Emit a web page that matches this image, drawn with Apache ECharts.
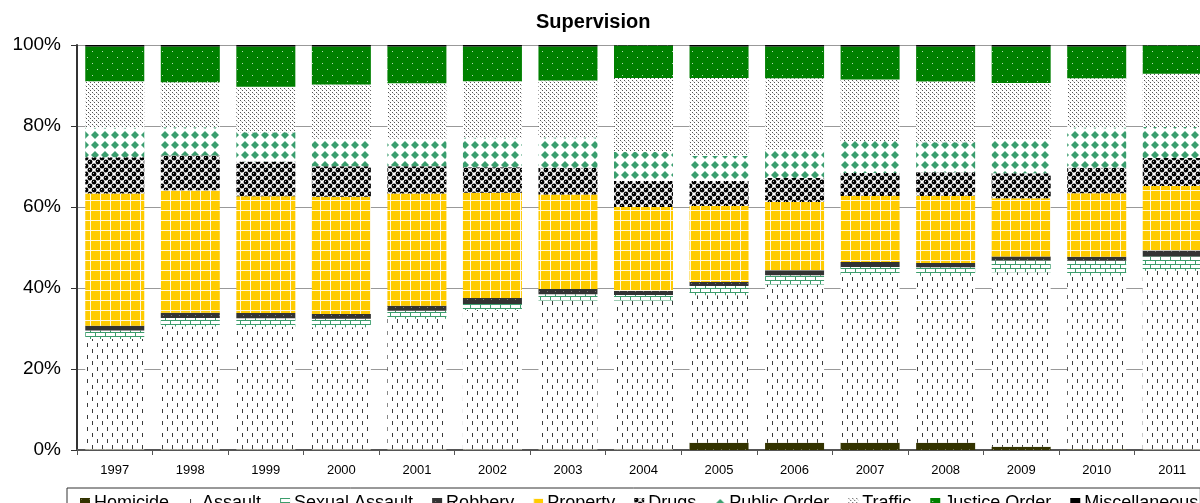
<!DOCTYPE html>
<html><head><meta charset="utf-8">
<script src="https://cdn.jsdelivr.net/npm/echarts@6/dist/echarts.min.js"></script>
<style>html,body{margin:0;padding:0;background:#fff;overflow:hidden;width:1200px;height:503px}#c{width:1210px;height:503px}</style>
</head><body><div id="c"></div>
<script>
const years = ['1997','1998','1999','2000','2001','2002','2003','2004','2005','2006','2007','2008','2009','2010','2011'];
const seriesNames = ['Homicide','Assault','Sexual Assault','Robbery','Property','Drugs','Public Order','Traffic','Justice Order','Miscellaneous'];
const homicide      = [0.1,0.1,0.1,0.1,0.1,0.1,0.1,0.1,1.8,1.8,1.8,1.8,0.8,0.2,0.1];
const assault       = [27.4,30.4,30.4,30.3,32.4,34.6,36.9,36.9,36.5,39.1,41.4,41.2,43.2,43.0,44.3];
const sexualAssault = [2.1,2.1,2.1,2.1,2.0,1.5,1.6,1.4,2.3,2.3,2.0,2.1,2.9,3.6,3.5];
const robbery       = [1.2,1.3,1.3,1.2,1.2,1.5,1.3,1.0,1.0,1.2,1.2,1.1,1.0,1.0,1.5];
const property      = [32.8,30.3,28.9,29.0,27.8,26.1,23.4,20.8,18.8,16.9,16.3,16.5,14.4,15.7,16.0];
const drugs         = [9.0,8.6,8.6,7.6,6.8,6.3,6.6,6.4,6.2,5.9,5.7,5.9,6.2,6.3,6.9];
const publicOrder   = [7.3,7.0,7.2,6.8,6.8,7.3,7.5,7.2,6.2,7.0,7.9,7.4,8.3,10.0,7.7];
const traffic       = [11.5,11.1,11.3,13.4,13.7,14.0,14.1,18.3,19.3,17.7,15.2,15.0,14.0,12.2,13.2];
const justiceOrder  = [8.6,8.8,9.9,9.4,9.1,8.6,8.4,8.1,7.8,7.8,8.1,8.6,9.0,7.8,7.0];
const miscellaneous = [0.4,0.4,0.4,0.4,0.4,0.4,0.4,0.1,0.4,0.4,0.4,0.4,0.4,0.4,0.1];
const yTicks = [0,20,40,60,80,100];

const raw = [homicide,assault,sexualAssault,robbery,property,drugs,publicOrder,traffic,justiceOrder,miscellaneous];
const totals = years.map((_, i) => raw.reduce((s, a) => s + a[i], 0));
const pct = raw.map(a => a.map((v, i) => v / totals[i] * 100));

function tile(w, h, draw) {
  const c = document.createElement('canvas'); c.width = w; c.height = h;
  const g = c.getContext('2d'); draw(g, w, h);
  return { image: c, repeat: 'repeat' };
}
const fills = [
  tile(8, 8, (g) => { g.fillStyle = '#333300'; g.fillRect(0,0,8,8); g.fillStyle = '#6b6b4a'; g.fillRect(1,1,1,1); }),
  tile(10, 12, (g) => { g.fillStyle = '#fff'; g.fillRect(0,0,10,12); g.fillStyle = '#3a3a3a'; g.fillRect(2,1,1,4); g.fillRect(7,7,1,4); }),
  tile(10, 8, (g) => { g.fillStyle = '#fff'; g.fillRect(0,0,10,8); g.fillStyle = '#3c9d6c'; g.fillRect(0,0,10,1); g.fillRect(0,4,10,1); g.fillRect(0,0,1,4); g.fillRect(5,4,1,4); }),
  tile(8, 8, (g) => { g.fillStyle = '#333333'; g.fillRect(0,0,8,8); g.fillStyle = '#777'; g.fillRect(3,3,1,1); }),
  tile(10, 10, (g) => { g.fillStyle = '#FFCC00'; g.fillRect(0,0,10,10); g.fillStyle = '#fff8e0'; g.fillRect(0,0,10,1); g.fillRect(0,0,1,10); }),
  tile(8, 8, (g) => { g.fillStyle = '#fff'; g.fillRect(0,0,8,8); g.fillStyle = '#000';
    [[2,2],[6,6],[10,2],[-2,6],[6,-2],[2,10],[10,10],[-2,-2]].forEach(([x,y]) => { g.beginPath(); g.arc(x,y,2.4,0,Math.PI*2); g.fill(); });
    g.fillStyle = '#bbb'; g.fillRect(1,1,1,1); g.fillRect(5,5,1,1); }),
  tile(10, 10, (g) => { g.fillStyle = '#fff'; g.fillRect(0,0,10,10); g.fillStyle = '#3a9e6e';
    g.beginPath(); g.moveTo(5,1); g.lineTo(9,5); g.lineTo(5,9); g.lineTo(1,5); g.closePath(); g.fill(); }),
  tile(4, 4, (g) => { g.fillStyle = '#fff'; g.fillRect(0,0,4,4); g.fillStyle = '#555'; g.fillRect(0,0,1,1); g.fillRect(2,2,1,1); g.fillStyle = '#ccc'; g.fillRect(1,1,1,1); }),
  tile(10, 12, (g) => { g.fillStyle = '#008000'; g.fillRect(0,0,10,12); g.fillStyle = '#b8d8b8'; g.fillRect(2,3,1,1); g.fillRect(7,9,1,1); }),
  '#000000'
];

const font = '"Liberation Sans", Arial, sans-serif';
const chart = echarts.init(document.getElementById('c'), null, { renderer: 'canvas', width: 1210, height: 503 });
chart.setOption({
  animation: false,
  backgroundColor: '#fff',
  title: { text: 'Supervision', left: 531, top: 7, textStyle: { fontFamily: font, fontSize: 20, fontWeight: 'bold', color: '#000' } },
  grid: { left: 77, top: 45, right: 0, bottom: 53, containLabel: false },
  legend: {
    left: 67, top: 488, icon: 'rect', itemWidth: 10, itemHeight: 10, itemGap: 19,
    padding: [4, 2, 1, 13], borderColor: '#333', borderWidth: 1,
    textStyle: { fontFamily: font, fontSize: 18, color: '#000', lineHeight: 22, padding: [0,0,0,-1] },
    data: seriesNames
  },
  xAxis: {
    type: 'category', data: years,
    axisLine: { lineStyle: { color: '#555', width: 2 } },
    axisTick: { show: true, alignWithLabel: false, length: 5, lineStyle: { color: '#555' } },
    axisLabel: { fontFamily: font, fontSize: 13, color: '#000', margin: 14 }
  },
  yAxis: {
    type: 'value', min: yTicks[0], max: yTicks[yTicks.length-1], interval: 20,
    axisLine: { show: true, lineStyle: { color: '#333', width: 2 } },
    axisTick: { show: true, length: 6, lineStyle: { color: '#333' } },
    axisLabel: { fontFamily: font, fontSize: 19, color: '#000', margin: 16, formatter: '{value}%' },
    splitLine: { show: true, lineStyle: { color: '#999', width: 1 } }
  },
  series: seriesNames.map((name, k) => ({
    name, type: 'bar', stack: 'all', barWidth: 59,
    itemStyle: { color: fills[k] },
    emphasis: { disabled: true },
    data: pct[k]
  }))
});
</script></body></html>
